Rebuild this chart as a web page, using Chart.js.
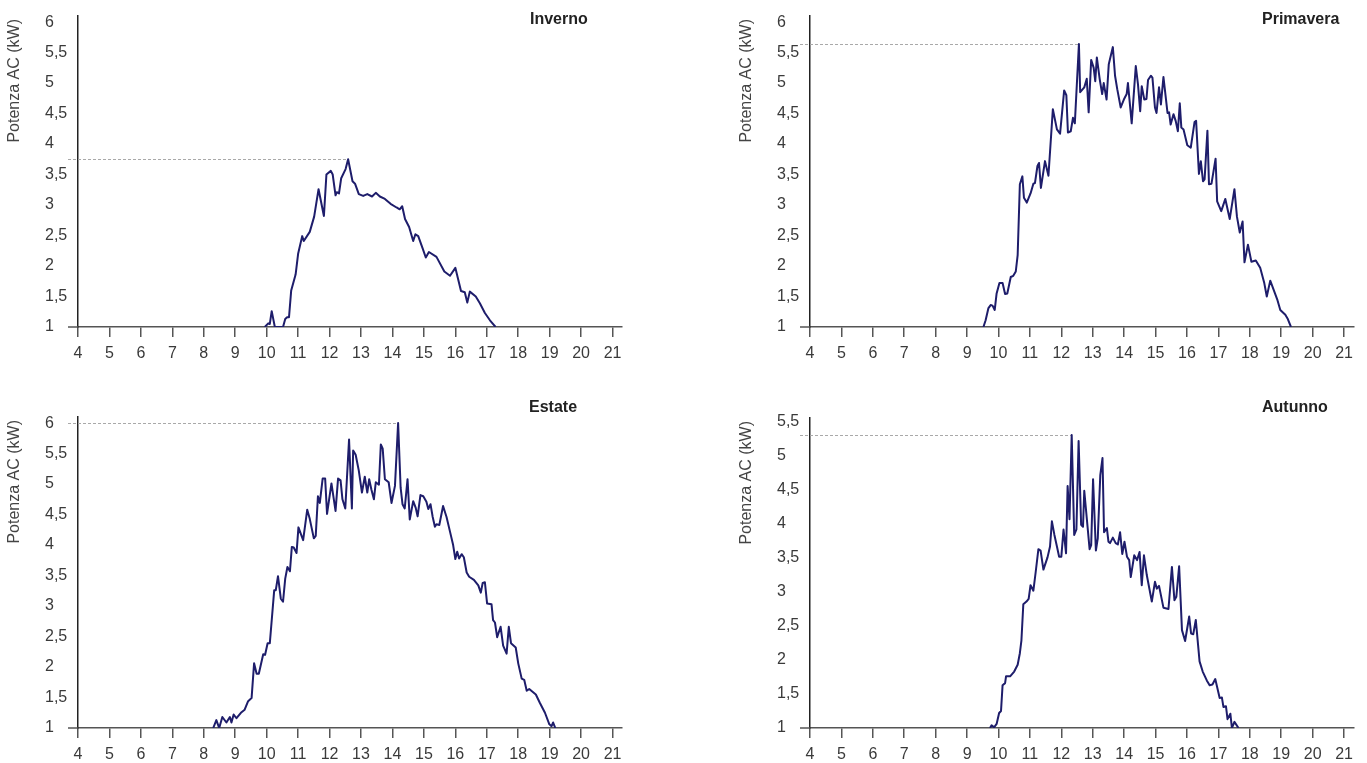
<!DOCTYPE html>
<html lang="it">
<head>
<meta charset="utf-8">
<title>Potenza AC per stagione</title>
<script src="https://cdn.jsdelivr.net/npm/chart.js@4.4.1/dist/chart.umd.min.js"></script>
<style>
  html, body { margin: 0; padding: 0; background: #fff; }
  body { width: 1367px; height: 763px; position: relative; overflow: hidden; }
  canvas { position: absolute; }
  #cInverno { left: 0; top: 0; }
  #cPrimavera { left: 732px; top: 0; }
  #cEstate { left: 0; top: 400px; }
  #cAutunno { left: 732px; top: 400px; }
</style>
</head>
<body>
<canvas id="cInverno" width="683" height="381"></canvas>
<canvas id="cPrimavera" width="635" height="381"></canvas>
<canvas id="cEstate" width="683" height="381"></canvas>
<canvas id="cAutunno" width="635" height="381"></canvas>

<script>
(() => {
  "use strict";

// Dati (ora del giorno, kW)
const xTicks = [4, 5, 6, 7, 8, 9, 10, 11, 12, 13, 14, 15, 16, 17, 18, 19, 20, 21];
const yTicks6 = [1, 1.5, 2, 2.5, 3, 3.5, 4, 4.5, 5, 5.5, 6];
const yTicks55 = [1, 1.5, 2, 2.5, 3, 3.5, 4, 4.5, 5, 5.5];

const invernoOre = [9.94,10.05,10.1,10.16,10.26,10.52,10.59,10.65,10.71,10.78,10.92,11.0,11.13,11.18,11.37,11.51,11.65,11.82,11.9,12.04,
  12.1,12.19,12.23,12.3,12.37,12.51,12.59,12.73,12.81,12.93,13.07,13.2,13.35,13.47,13.6,13.76,13.94,14.13,14.23,14.31,
  14.4,14.53,14.66,14.73,14.82,14.96,15.06,15.16,15.4,15.65,15.83,16.0,16.18,16.3,16.38,16.46,16.65,16.78,16.94,17.1,17.28];
const invernoKw = [1.0,1.06,1.05,1.26,1.0,1.0,1.13,1.16,1.16,1.6,1.86,2.2,2.49,2.41,2.56,2.81,3.26,2.82,3.5,3.56,
  3.5,3.16,3.21,3.19,3.44,3.59,3.75,3.39,3.35,3.18,3.15,3.18,3.14,3.2,3.14,3.1,3.02,2.96,2.93,2.98,
  2.77,2.64,2.41,2.52,2.49,2.29,2.14,2.23,2.15,1.91,1.84,1.97,1.59,1.57,1.4,1.58,1.5,1.39,1.23,1.11,1.0];

const primaveraOre = [9.52,9.59,9.68,9.75,9.81,9.88,9.94,10.03,10.13,10.21,10.28,10.39,10.47,10.55,10.61,10.68,10.76,10.81,10.9,11.02,
  11.11,11.16,11.24,11.29,11.35,11.48,11.59,11.73,11.86,11.96,12.09,12.16,12.21,12.3,12.37,12.43,12.56,12.6,12.73,12.81,
  12.87,12.95,13.03,13.08,13.13,13.22,13.3,13.35,13.44,13.51,13.64,13.71,13.78,13.89,13.99,14.08,14.12,14.24,14.37,14.44,
  14.51,14.56,14.64,14.71,14.76,14.85,14.9,14.98,15.03,15.11,15.17,15.25,15.38,15.43,15.48,15.57,15.64,15.71,15.77,15.82,
  15.89,16.01,16.12,16.24,16.29,16.38,16.44,16.51,16.56,16.65,16.7,16.78,16.91,16.96,17.09,17.22,17.36,17.51,17.59,17.68,
  17.77,17.83,17.94,18.05,18.19,18.33,18.46,18.54,18.65,18.78,18.88,18.97,19.13,19.2,19.31];
const primaveraKw = [1.0,1.11,1.31,1.36,1.35,1.28,1.55,1.72,1.72,1.54,1.55,1.82,1.84,1.91,2.18,3.34,3.47,3.12,3.04,3.19,
  3.35,3.36,3.64,3.69,3.28,3.72,3.48,4.57,4.24,4.17,4.88,4.8,4.19,4.21,4.43,4.34,5.64,4.85,4.93,5.07,
  4.52,5.38,5.25,5.03,5.42,5.07,4.82,5.0,4.73,5.31,5.59,5.12,4.9,4.6,4.73,4.82,5.0,4.34,5.28,4.98,
  4.54,4.95,4.73,4.74,5.05,5.12,5.09,4.6,4.51,4.93,4.65,5.1,4.51,4.52,4.32,4.49,4.38,4.21,4.67,4.27,
  4.24,3.98,3.94,4.36,4.38,3.51,3.72,3.39,3.42,4.22,3.34,3.35,3.76,3.06,2.9,3.1,2.77,3.26,2.81,2.55,
  2.73,2.06,2.35,2.07,2.09,1.97,1.72,1.5,1.76,1.58,1.44,1.28,1.2,1.14,1.0];

const estateOre = [8.3,8.4,8.49,8.59,8.72,8.83,8.88,8.95,9.04,9.18,9.3,9.41,9.52,9.6,9.68,9.75,9.89,9.95,10.03,10.1,
  10.24,10.29,10.36,10.45,10.52,10.59,10.66,10.74,10.8,10.86,10.95,11.01,11.16,11.29,11.37,11.5,11.56,11.63,11.69,11.78,
  11.86,11.92,12.06,12.19,12.27,12.35,12.41,12.5,12.62,12.71,12.75,12.83,12.93,13.03,13.12,13.2,13.26,13.33,13.41,13.47,
  13.57,13.63,13.69,13.76,13.88,13.97,14.08,14.18,14.26,14.32,14.39,14.48,14.55,14.66,14.74,14.8,14.89,14.98,15.08,15.14,
  15.21,15.28,15.35,15.4,15.49,15.61,15.72,15.83,15.93,16.0,16.06,16.12,16.2,16.27,16.36,16.44,16.59,16.73,16.81,16.87,
  16.94,17.01,17.15,17.2,17.26,17.33,17.44,17.52,17.63,17.7,17.77,17.92,18.0,18.11,18.19,18.27,18.35,18.56,18.69,18.85,
  18.99,19.06,19.11,19.18];
const estateKw = [1.0,1.13,1.0,1.18,1.09,1.18,1.09,1.22,1.16,1.25,1.3,1.44,1.49,2.06,1.89,1.89,2.21,2.2,2.39,2.39,
  3.26,3.26,3.49,3.12,3.07,3.45,3.64,3.57,3.97,3.96,3.87,4.29,4.08,4.58,4.43,4.11,4.15,4.8,4.69,5.09,
  5.09,4.51,5.01,4.56,5.09,5.06,4.75,4.6,5.73,4.6,5.55,5.48,5.22,4.86,5.12,4.86,5.08,4.91,4.75,5.03,
  4.99,5.65,5.58,5.08,5.03,4.69,4.97,6.0,4.94,4.67,4.6,5.08,4.42,4.72,4.61,4.47,4.82,4.8,4.71,4.59,
  4.67,4.46,4.3,4.34,4.33,4.64,4.46,4.22,4.0,3.77,3.89,3.78,3.85,3.8,3.55,3.48,3.43,3.34,3.22,3.38,
  3.39,3.04,3.03,2.77,2.73,2.49,2.66,2.35,2.22,2.66,2.39,2.32,2.06,1.81,1.79,1.61,1.64,1.55,1.41,1.25,
  1.06,1.03,1.09,1.0];

const autunnoOre = [9.73,9.78,9.86,9.94,10.02,10.08,10.13,10.21,10.24,10.37,10.5,10.61,10.68,10.73,10.79,10.89,10.96,11.02,11.11,11.18,
  11.27,11.34,11.43,11.56,11.64,11.7,11.78,11.86,11.93,12.0,12.07,12.15,12.2,12.26,12.33,12.41,12.48,12.55,12.63,12.69,
  12.73,12.9,12.95,13.01,13.1,13.16,13.24,13.31,13.36,13.45,13.5,13.55,13.64,13.73,13.8,13.87,13.94,14.01,14.09,14.16,
  14.21,14.32,14.41,14.49,14.56,14.63,14.72,14.88,14.98,15.04,15.11,15.25,15.41,15.52,15.6,15.66,15.75,15.84,15.94,16.07,
  16.13,16.2,16.28,16.4,16.5,16.63,16.72,16.81,16.9,17.04,17.11,17.16,17.24,17.29,17.38,17.43,17.51,17.64];
const autunnoKw = [1.0,1.04,1.01,1.06,1.22,1.25,1.63,1.66,1.76,1.76,1.83,1.93,2.1,2.29,2.82,2.86,2.9,3.1,3.02,3.28,
  3.63,3.61,3.33,3.51,3.67,4.04,3.84,3.67,3.52,3.52,3.92,3.57,4.56,4.07,5.31,3.84,3.92,5.22,3.99,3.96,
  4.49,3.63,3.69,4.66,3.61,3.79,4.72,4.97,3.88,3.94,3.74,3.72,3.8,3.72,3.7,3.88,3.56,3.74,3.52,3.47,
  3.22,3.54,3.47,3.59,3.1,3.54,3.25,2.86,3.15,3.05,3.09,2.77,2.75,3.37,2.88,2.93,3.38,2.44,2.28,2.64,
  2.39,2.38,2.59,1.98,1.83,1.7,1.63,1.64,1.72,1.44,1.45,1.31,1.32,1.13,1.21,1.0,1.09,1.0];

const LINE = "#1e1d6b";
const FONT = "'Liberation Sans', Arial, sans-serif";

const pairs = (ore, kw) => ore.slice(0, Math.min(ore.length, kw.length)).map((h, i) => ({ x: h, y: kw[i] }));
const fmt = (v) => String(v).replace(".", ",");

// decorazioni: asse prolungato, linea del picco, titoli
const decor = {
  id: "decor",
  beforeDatasetsDraw(chart) {
    const { ctx, chartArea: a, scales: { x, y } } = chart;
    const pts = chart.data.datasets[0].data;
    let peak = pts[0];
    for (const p of pts) if (p.y > peak.y) peak = p;
    const px = x.getPixelForValue(peak.x);
    const py = Math.round(y.getPixelForValue(peak.y)) + 0.5;
    ctx.save();
    ctx.strokeStyle = "#a9a9a9";
    ctx.lineWidth = 1;
    ctx.setLineDash([3, 2]);
    ctx.beginPath();
    ctx.moveTo(a.left - 10, py);
    ctx.lineTo(px, py);
    ctx.stroke();
    ctx.restore();
  },
  afterDraw(chart, args, o) {
    const { ctx, chartArea: a } = chart;
    ctx.save();
    ctx.strokeStyle = "#555";
    ctx.lineWidth = 1.5;
    ctx.beginPath();
    ctx.moveTo(a.left - 10, a.bottom);
    ctx.lineTo(a.left, a.bottom);
    ctx.stroke();

    ctx.fillStyle = "#444";
    ctx.font = `16px ${FONT}`;
    ctx.translate(15, a.top + 3);
    ctx.rotate(-Math.PI / 2);
    ctx.textAlign = "right";
    ctx.textBaseline = "middle";
    ctx.fillText("Potenza AC (kW)", 0, 0);
    ctx.restore();

    ctx.save();
    ctx.fillStyle = "#222";
    ctx.font = `bold 16px ${FONT}`;
    ctx.textAlign = "left";
    ctx.textBaseline = "middle";
    ctx.fillText(o.title, o.titleX, o.titleY);
    ctx.restore();
  }
};

function makeChart(id, ore, kw, yMax, yTicks, box, title) {
  const canvas = document.getElementById(id);
  return new Chart(canvas, {
    type: "line",
    data: {
      datasets: [{
        data: pairs(ore, kw),
        borderColor: LINE,
        borderWidth: 2,
        borderJoinStyle: "round",
        pointRadius: 0,
        tension: 0,
        fill: false
      }]
    },
    options: {
      responsive: false,
      animation: false,
      devicePixelRatio: 1,
      layout: { padding: { left: 45, top: box.top, right: canvas.width - box.right, bottom: 0 } },
      plugins: {
        legend: { display: false },
        tooltip: { enabled: false },
        decor: title
      },
      scales: {
        x: {
          type: "linear",
          min: 4,
          max: 21.3,
          afterBuildTicks: (s) => { s.ticks = xTicks.map(v => ({ value: v })); },
          afterFit: (s) => { s.height = canvas.height - box.bottom; },
          grid: { drawOnChartArea: false, drawTicks: true, tickLength: 10, color: "#555", lineWidth: 1.5 },
          border: { display: true, color: "#555", width: 1.5 },
          ticks: { color: "#3a3a3a", font: { family: FONT, size: 16 }, padding: 7, maxRotation: 0, autoSkip: false }
        },
        y: {
          type: "linear",
          min: 1,
          max: yMax,
          afterBuildTicks: (s) => { s.ticks = yTicks.map(v => ({ value: v })); },
          afterFit: (s) => { s.width = 33; },
          grid: { drawOnChartArea: false, drawTicks: false },
          border: { display: true, color: "#222", width: 1.5 },
          ticks: {
            color: "#3a3a3a",
            font: { family: FONT, size: 16 },
            crossAlign: "far",
            padding: 0,
            autoSkip: false,
            callback: (v) => fmt(v)
          }
        }
      }
    },
    plugins: [decor]
  });
}

makeChart("cInverno", invernoOre, invernoKw, 6.1, yTicks6,
  { top: 16, bottom: 327, right: 622 }, { title: "Inverno", titleX: 530, titleY: 20 });
makeChart("cPrimavera", primaveraOre, primaveraKw, 6.1, yTicks6,
  { top: 16, bottom: 327, right: 621.5 }, { title: "Primavera", titleX: 530, titleY: 20 });
makeChart("cEstate", estateOre, estateKw, 6.1, yTicks6,
  { top: 17, bottom: 328, right: 622 }, { title: "Estate", titleX: 529, titleY: 8 });
makeChart("cAutunno", autunnoOre, autunnoKw, 5.56, yTicks55,
  { top: 18, bottom: 328, right: 621.5 }, { title: "Autunno", titleX: 530, titleY: 8 });
})();
</script>
</body>
</html>
